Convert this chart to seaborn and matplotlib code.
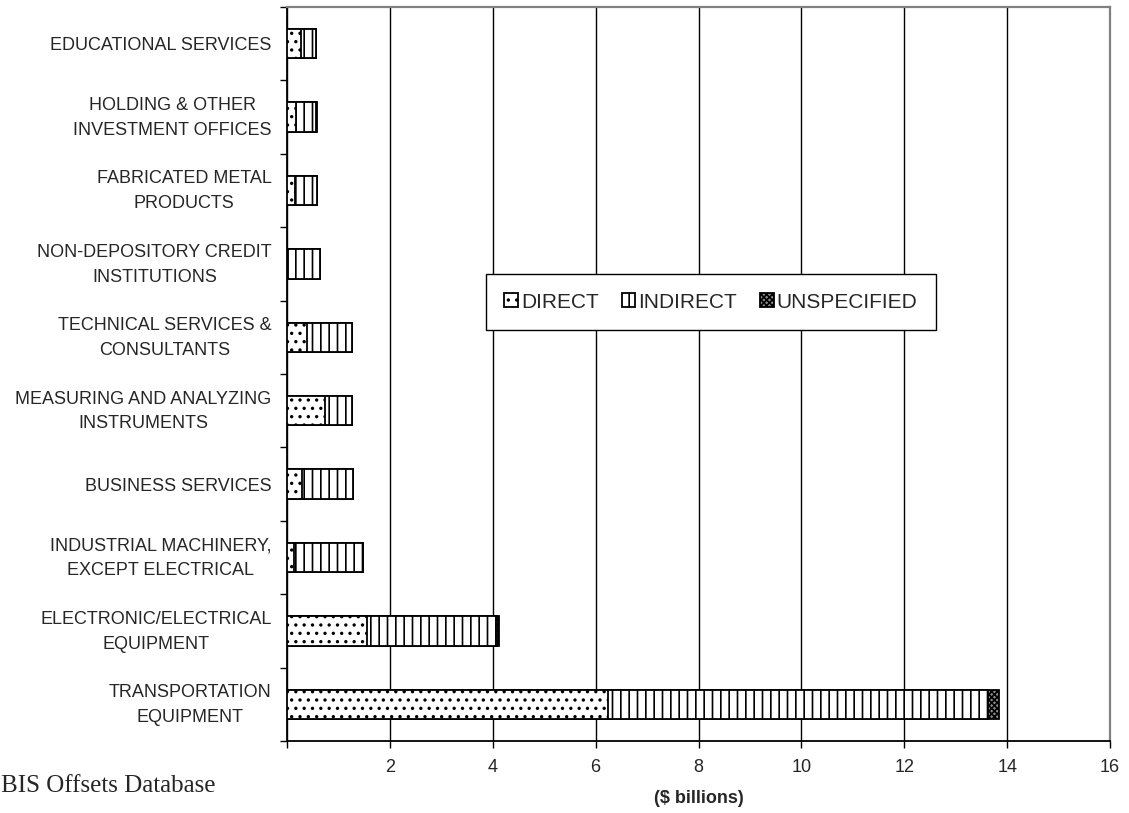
import matplotlib
matplotlib.use("Agg")
import matplotlib.pyplot as plt
import matplotlib.transforms as mtransforms
import seaborn as sns
import numpy as np
import pandas as pd

# Offset transactions by industry, $ billions
categories = [
    "EDUCATIONAL SERVICES",
    "HOLDING & OTHER\nINVESTMENT OFFICES",
    "FABRICATED METAL\nPRODUCTS",
    "NON-DEPOSITORY CREDIT\nINSTITUTIONS",
    "TECHNICAL SERVICES &\nCONSULTANTS",
    "MEASURING AND ANALYZING\nINSTRUMENTS",
    "BUSINESS SERVICES",
    "INDUSTRIAL MACHINERY,\nEXCEPT ELECTRICAL",
    "ELECTRONIC/ELECTRICAL\nEQUIPMENT",
    "TRANSPORTATION\nEQUIPMENT",
]
direct = [0.27, 0.17, 0.16, 0.02, 0.38, 0.73, 0.30, 0.14, 1.56, 6.25]
indirect = [0.29, 0.39, 0.43, 0.63, 0.88, 0.54, 0.99, 1.34, 2.53, 7.38]
unspecified = [0.00, 0.02, 0.00, 0.00, 0.00, 0.00, 0.00, 0.00, 0.03, 0.22]

x_ticks = [0, 2, 4, 6, 8, 10, 12, 14, 16]
x_ticklabels = ["", "2", "4", "6", "8", "10", "12", "14", "16"]

sns.set_style("white")
plt.rcParams["font.family"] = ["Liberation Sans", "DejaVu Sans"]
plt.rcParams["hatch.linewidth"] = 1.2

df = pd.DataFrame({
    "category": categories,
    "direct": direct,
    "indirect": indirect,
    "unspecified": unspecified,
})
df["cum_indirect"] = df["direct"] + df["indirect"]
df["cum_total"] = df["cum_indirect"] + df["unspecified"]

fig = plt.figure(figsize=(11.29, 8.13), dpi=100)
ax = fig.add_axes([0.2542, 0.0886, 0.9832 - 0.2542, 0.9914 - 0.0886])

bar_kw = dict(orient="h", width=0.4, saturation=1, edgecolor="black",
              linewidth=1.3, ax=ax, zorder=3)

# stacked segments drawn back to front: total, then direct+indirect, then direct
sns.barplot(data=df, x="cum_total", y="category", color="#8c8c8c",
            hatch="xxxxxx", label="UNSPECIFIED", **bar_kw)
sns.barplot(data=df, x="cum_indirect", y="category", color="white",
            hatch="||", label="INDIRECT", **bar_kw)
sns.barplot(data=df, x="direct", y="category", color="white",
            hatch="..", label="DIRECT", **bar_kw)

ax.set_xlim(0, 16)
ax.set_ylim(len(categories) - 0.5, -0.5)
ax.set_xticks(x_ticks)
ax.set_xticklabels(x_ticklabels, fontsize=13)
ax.set_xlabel("($ billions)", fontsize=13, fontweight="bold", labelpad=10)
ax.set_ylabel("")

ax.tick_params(axis="y", which="major", length=0, pad=11, labelsize=13)
raise_two_line = mtransforms.ScaledTranslation(0, 0.05, fig.dpi_scale_trans)
for lbl in ax.get_yticklabels():
    lbl.set_multialignment("center")
    lbl.set_linespacing(1.6)
    if "\n" in lbl.get_text():
        lbl.set_transform(lbl.get_transform() + raise_two_line)
ax.set_yticks(np.arange(-0.5, len(categories), 1.0), minor=True)
ax.tick_params(axis="y", which="minor", length=5, width=1, color="black",
               direction="out", left=True)
ax.tick_params(axis="x", which="major", length=5, width=1, color="black",
               direction="out", bottom=True, pad=8)

ax.grid(axis="x", color="black", linewidth=1)
ax.grid(axis="y", visible=False)
ax.set_axisbelow(True)

for side in ("left", "bottom"):
    ax.spines[side].set_color("black")
    ax.spines[side].set_linewidth(1.3)
for side in ("top", "right"):
    ax.spines[side].set_color("#808080")
    ax.spines[side].set_linewidth(1.6)

handles, labels = ax.get_legend_handles_labels()
order = [labels.index(n) for n in ("DIRECT", "INDIRECT", "UNSPECIFIED")]
leg = ax.legend([handles[i] for i in order], [labels[i] for i in order],
                loc="center", bbox_to_anchor=(711 / 1129, 1 - 302 / 813),
                bbox_transform=fig.transFigure, ncol=3, fontsize=15,
                frameon=True, fancybox=False, shadow=False, framealpha=1,
                edgecolor="black", borderpad=0.9, handlelength=0.65,
                handleheight=0.65, handletextpad=0.15, columnspacing=1.1)
leg.get_frame().set_linewidth(1.0)

fig.text(1 / 1129, 1 - 792 / 813, "BIS Offsets Database",
         ha="left", va="baseline", fontsize=18, family="Liberation Serif")

fig.savefig("out.png", dpi=100)
